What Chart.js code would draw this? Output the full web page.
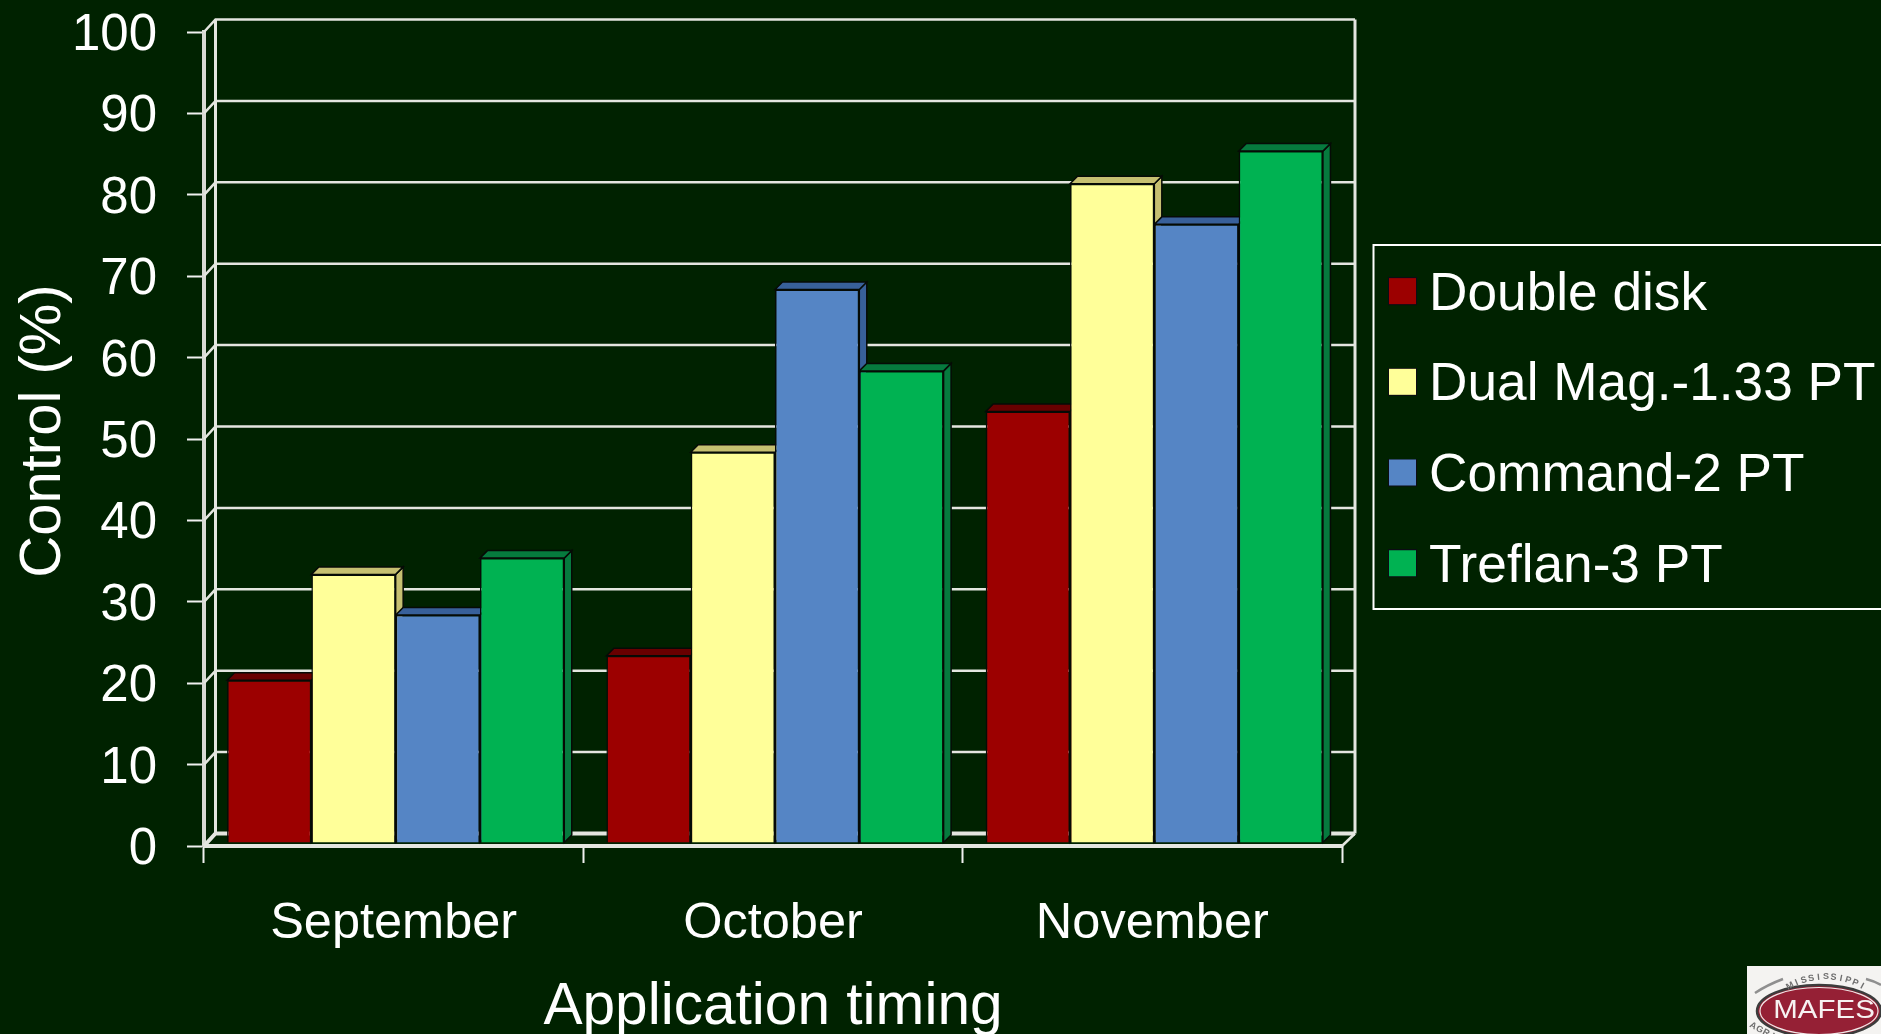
<!DOCTYPE html>
<html><head><meta charset="utf-8">
<style>html,body{margin:0;padding:0;background:#002200;overflow:hidden}canvas{display:block}</style>
<script src="https://cdn.jsdelivr.net/npm/chart.js@4"></script>
</head><body><canvas id="c" width="1881" height="1034"></canvas>
<script>
const categories = ['September','October','November'];
const seriesNames = ['Double disk','Dual Mag.-1.33 PT','Command-2 PT','Treflan-3 PT'];
const doubleDisk = [20,23,53];
const dualMag = [33,48,81];
const command2 = [28,68,76];
const treflan3 = [35,58,85];
const frontColors = ['#9c0000','#ffff99','#5585c5','#00b252'];
const darkColors = ['#680000','#c6c071','#38609a','#067a3e'];
const FONT = '"Liberation Sans", Arial, sans-serif';
const BG = '#002200', LINE = '#e4e6e0';
const wall = {dx:11.5, dy:-12.5}, barShift = {dx:2, dy:-3}, depth = {dx:7.5, dy:-7.5};

function swatch(color){
  const c = document.createElement('canvas'); c.width = 37; c.height = 36;
  const g = c.getContext('2d');
  g.fillStyle = '#0c0c14'; g.fillRect(4,0,29,28);
  g.fillStyle = color; g.fillRect(5,1,27,26);
  return c;
}
const swatches = frontColors.map(swatch);

function nudge(scale, method, dx, dy){
  const orig = scale[method];
  scale[method] = function(...args){
    const g = this.ctx; g.save(); g.translate(dx,dy); orig.apply(this,args); g.restore();
  };
}

const scene = {
  id:'scene',
  beforeDraw(ch){
    const g = ch.ctx; g.save(); g.fillStyle = BG; g.fillRect(0,0,ch.width,ch.height); g.restore();
    if(!ch.$nudged){
      ch.$nudged = true;
      nudge(ch.scales.y,'drawLabels',0,4);
      nudge(ch.scales.y,'drawTitle',2.5,-8);
      nudge(ch.scales.x,'drawLabels',0,1);
    }
  },
  afterLayout(ch){
    const l = ch.legend, w = l.width, h = l.height;
    l.left = 1364.9; l.top = 231; l.right = l.left + w; l.bottom = l.top + h;
  },
  beforeDatasetsDraw(ch){
    const g = ch.ctx, y = ch.scales.y, a = ch.chartArea;
    g.save();
    g.strokeStyle = LINE; g.lineWidth = 2.5; g.lineJoin = 'miter';
    const bl = a.left + wall.dx, br = a.right + wall.dx + 1.5;
    y.ticks.forEach(t=>{
      const py = y.getPixelForValue(t.value);
      g.lineWidth = t.value === 0 ? 4 : 2.5;
      g.beginPath(); g.moveTo(a.left,py); g.lineTo(bl,py+wall.dy); g.lineTo(br,py+wall.dy); g.stroke();
    });
    g.lineWidth = 3;
    g.beginPath(); g.moveTo(bl,a.top+wall.dy); g.lineTo(bl,a.bottom+wall.dy); g.stroke();
    g.beginPath(); g.moveTo(br,a.top+wall.dy); g.lineTo(br,a.bottom+wall.dy); g.stroke();
    g.lineWidth = 2.5;
    g.beginPath(); g.moveTo(a.right,a.bottom); g.lineTo(br,a.bottom+wall.dy); g.stroke();
    g.lineWidth = 4;
    g.beginPath(); g.moveTo(a.left,a.bottom); g.lineTo(a.right,a.bottom); g.stroke();
    g.translate(barShift.dx,barShift.dy);
    g.lineWidth = 1.5; g.strokeStyle = '#060b06';
    categories.forEach((_,i)=>{
      seriesNames.forEach((_,d)=>{
        const el = ch.getDatasetMeta(d).data[i];
        const l = el.x-el.width/2, r = el.x+el.width/2, t = el.y, b = el.base;
        g.fillStyle = darkColors[d];
        g.beginPath(); g.moveTo(r,t); g.lineTo(r+depth.dx,t+depth.dy); g.lineTo(r+depth.dx,b+depth.dy); g.lineTo(r,b); g.closePath(); g.fill(); g.stroke();
        g.beginPath(); g.moveTo(l,t); g.lineTo(l+depth.dx,t+depth.dy); g.lineTo(r+depth.dx,t+depth.dy); g.lineTo(r,t); g.closePath(); g.fill(); g.stroke();
      });
    });
    g.restore();
    g.save(); g.translate(barShift.dx,barShift.dy);
  },
  afterDatasetsDraw(ch){ ch.ctx.restore(); },
  afterDraw(ch){
    const g = ch.ctx;
    g.save();
    g.strokeStyle = '#ffffff'; g.lineWidth = 2;
    g.strokeRect(1373.5,245,600,364);
    // logo
    g.fillStyle = '#f4f3f1'; g.fillRect(1747,966,134,68);
    g.strokeStyle = '#8f8f8f'; g.lineWidth = 2.5;
    g.beginPath(); g.moveTo(1755,993); g.quadraticCurveTo(1767,985,1783,979); g.stroke();
    g.beginPath(); g.moveTo(1866,979); g.quadraticCurveTo(1874,981,1881,985); g.stroke();
    g.fillStyle = '#952035'; g.strokeStyle = '#3c3c3c'; g.lineWidth = 2.5;
    g.beginPath(); g.ellipse(1819,1011,62,26,0,0,Math.PI*2); g.fill(); g.stroke();
    g.strokeStyle = '#f0e8e8'; g.lineWidth = 1.2;
    g.beginPath(); g.ellipse(1819,1011,59,23.5,0,0,Math.PI*2); g.stroke();
    g.fillStyle = '#f7f2f2'; g.font = '25px '+FONT;
    g.textAlign = 'center'; g.textBaseline = 'middle';
    g.save(); g.translate(1824,1011); g.scale(1.18,1); g.fillText('MAFES',0,0); g.restore();
    g.fillStyle = '#6e6e6e'; g.font = 'bold 9px '+FONT;
    const top = 'MISSISSIPPI';
    [...top].forEach((c2,i)=>{
      const ang = (i-(top.length-1)/2)*0.1;
      g.save(); g.translate(1826+Math.sin(ang)*75, 1051-Math.cos(ang)*74); g.rotate(ang); g.fillText(c2,0,0); g.restore();
    });
    const low = 'AGRI';
    [...low].forEach((c2,i)=>{
      g.save(); g.translate(1753+i*6.5, 1026+i*3.4); g.rotate(0.5); g.fillText(c2,0,0); g.restore();
    });
    g.restore();
  }
};

new Chart(document.getElementById('c'),{
  type:'bar',
  data:{labels:categories,datasets:[doubleDisk,dualMag,command2,treflan3].map((v,i)=>({
    label:seriesNames[i],data:v,backgroundColor:frontColors[i],borderColor:'#060b06',borderWidth:1.5,
    barPercentage:1,categoryPercentage:4/4.5
  }))},
  plugins:[scene],
  options:{
    responsive:false,animation:false,devicePixelRatio:1,
    layout:{autoPadding:false,padding:{left:0,top:32,right:539,bottom:0}},
    plugins:{
      tooltip:{enabled:false},title:{display:false},
      legend:{display:true,position:'chartArea',align:'start',
        labels:{color:'#ffffff',font:{family:FONT,size:53.2},padding:37.5,usePointStyle:true,pointStyleWidth:0.1,
          generateLabels(ch){
            return Chart.defaults.plugins.legend.labels.generateLabels(ch).map((it,i)=>Object.assign(it,{pointStyle:swatches[i]}));
          }}
      }
    },
    scales:{
      x:{
        afterFit(s){s.height=188;s.paddingLeft=0;s.paddingRight=0;},
        grid:{drawOnChartArea:false,drawTicks:true,tickLength:17,tickColor:'#f0f0f0',tickWidth:2,offset:true},
        border:{display:false},
        ticks:{color:'#ffffff',font:{family:FONT,size:50.5},padding:30,maxRotation:0,autoSkip:false},
        title:{display:true,text:'Application timing',color:'#ffffff',font:{family:FONT,size:58.6,lineHeight:1},padding:{top:0,bottom:-3}}
      },
      y:{
        min:0,max:100,
        afterFit(s){s.width=204;s.paddingTop=0;s.paddingBottom=0;},
        grid:{drawOnChartArea:false,drawTicks:true,tickLength:17,tickColor:'#f0f0f0',tickWidth:2},
        border:{display:true,color:'#d8dad4',width:4},
        ticks:{color:'#ffffff',font:{family:FONT,size:51},padding:30,stepSize:10},
        title:{display:true,text:'Control (%)',color:'#ffffff',font:{family:FONT,size:58},padding:{top:7,bottom:0}}
      }
    }
  }
});
</script></body></html>
